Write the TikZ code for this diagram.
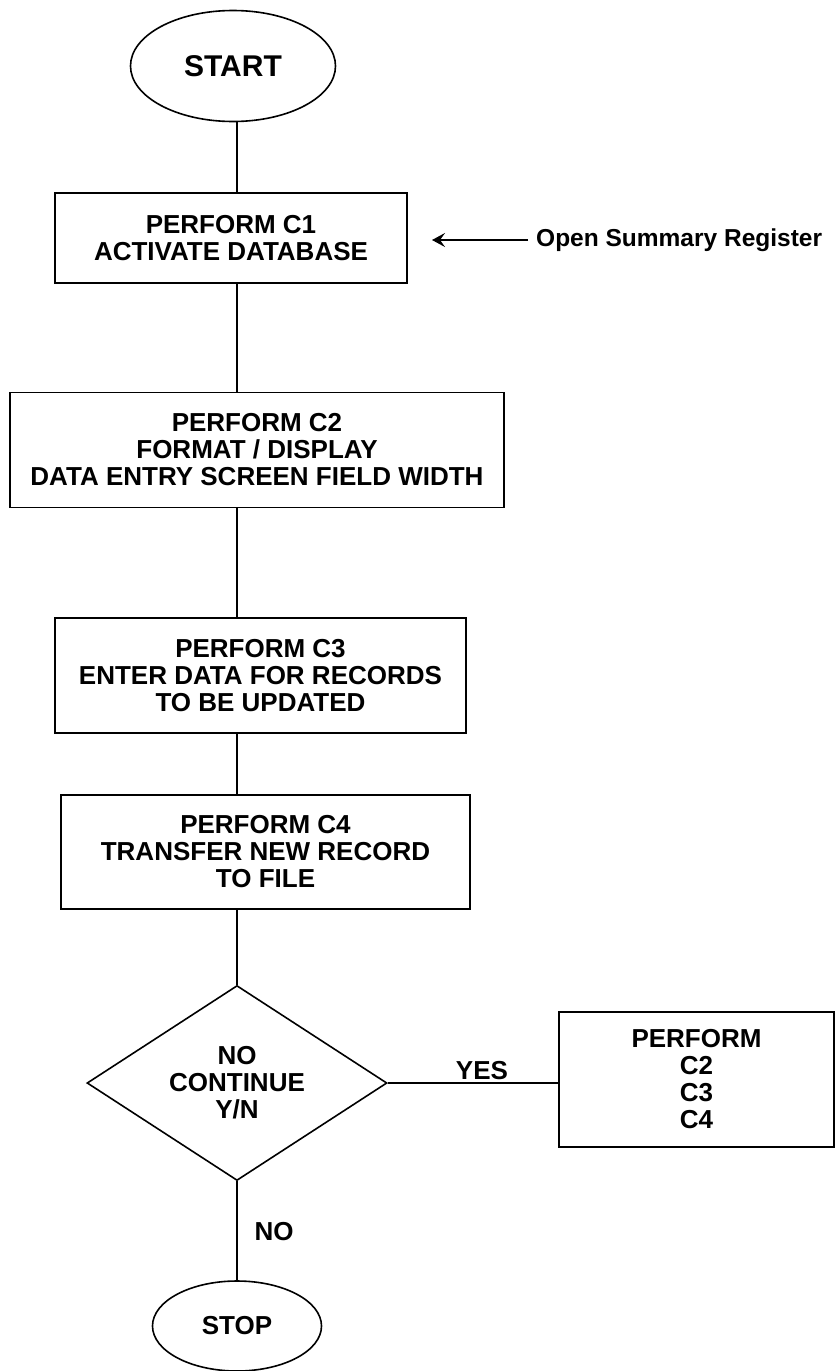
\documentclass[tikz,border=0pt]{standalone}
\usepackage{fontspec}
\setmainfont{Liberation Sans}
\usetikzlibrary{shapes.geometric,arrows.meta}
\begin{document}
\begin{tikzpicture}[x=1pt,y=-1pt,
  every node/.style={font=\bfseries\fontsize{26}{27}\selectfont},
  proc/.style={draw, line width=1.6pt, rectangle, align=center, inner sep=0pt},
  term/.style={draw, ellipse, line width=1.6pt, inner sep=0pt},
  link/.style={line width=1.6pt},
  lbl/.style={inner sep=2pt}]
\useasboundingbox (0,0) rectangle (836,1371);
\fill[white] (0,0) rectangle (836,1371);
\coordinate (ax) at (237,0);
\node[term, minimum width=205pt, minimum height=111pt, font=\bfseries\fontsize{30}{32}\selectfont] (start) at (233,66) {START};
\node[proc, minimum width=352pt, minimum height=90pt] (b1) at (231,238) {PERFORM C1\\ACTIVATE DATABASE};
\node[proc, minimum width=494pt, minimum height=115pt] (b2) at (257,450) {PERFORM C2\\FORMAT / DISPLAY\\DATA ENTRY SCREEN FIELD WIDTH};
\node[proc, minimum width=411pt, minimum height=115pt] (b3) at (260.5,675.5) {PERFORM C3\\ENTER DATA FOR RECORDS\\TO BE UPDATED};
\node[proc, minimum width=409pt, minimum height=114pt] (b4) at (265.5,852) {PERFORM C4\\TRANSFER NEW RECORD\\TO FILE};
\node[diamond, draw, line width=1.6pt, minimum width=300pt, minimum height=195pt, aspect=1.54, inner sep=0pt, align=center] (dec) at (237,1083) {NO\\CONTINUE\\Y/N};
\node[proc, minimum width=275pt, minimum height=135pt] (b5) at (696.5,1079.5) {PERFORM\\C2\\C3\\C4};
\node[term, minimum width=169pt, minimum height=90pt] (stop) at (237,1326) {STOP};
\node[anchor=west, inner sep=8pt, font=\bfseries\fontsize{24.5}{27}\selectfont] (osr) at (528,240) {Open Summary Register};
\coordinate (tip) at (432,240);
\node[lbl, anchor=south] (yes) at (482,1082) {YES};
\node[lbl] (no) at (274,1232) {NO};
\draw[link] (start.south -| ax) -- (b1.north -| ax);
\draw[link] (b1.south -| ax) -- (b2.north -| ax);
\draw[link] (b2.south -| ax) -- (b3.north -| ax);
\draw[link] (b3.south -| ax) -- (b4.north -| ax);
\draw[link] (b4.south -| ax) -- (dec.north);
\draw[link] (dec.east) -- (dec.east -| b5.west);
\draw[link] (dec.south) -- (stop.north);
\draw[link, -{Stealth[length=13pt,width=14pt,inset=5pt]}] (osr.west) -- (tip);
\end{tikzpicture}
\end{document}
